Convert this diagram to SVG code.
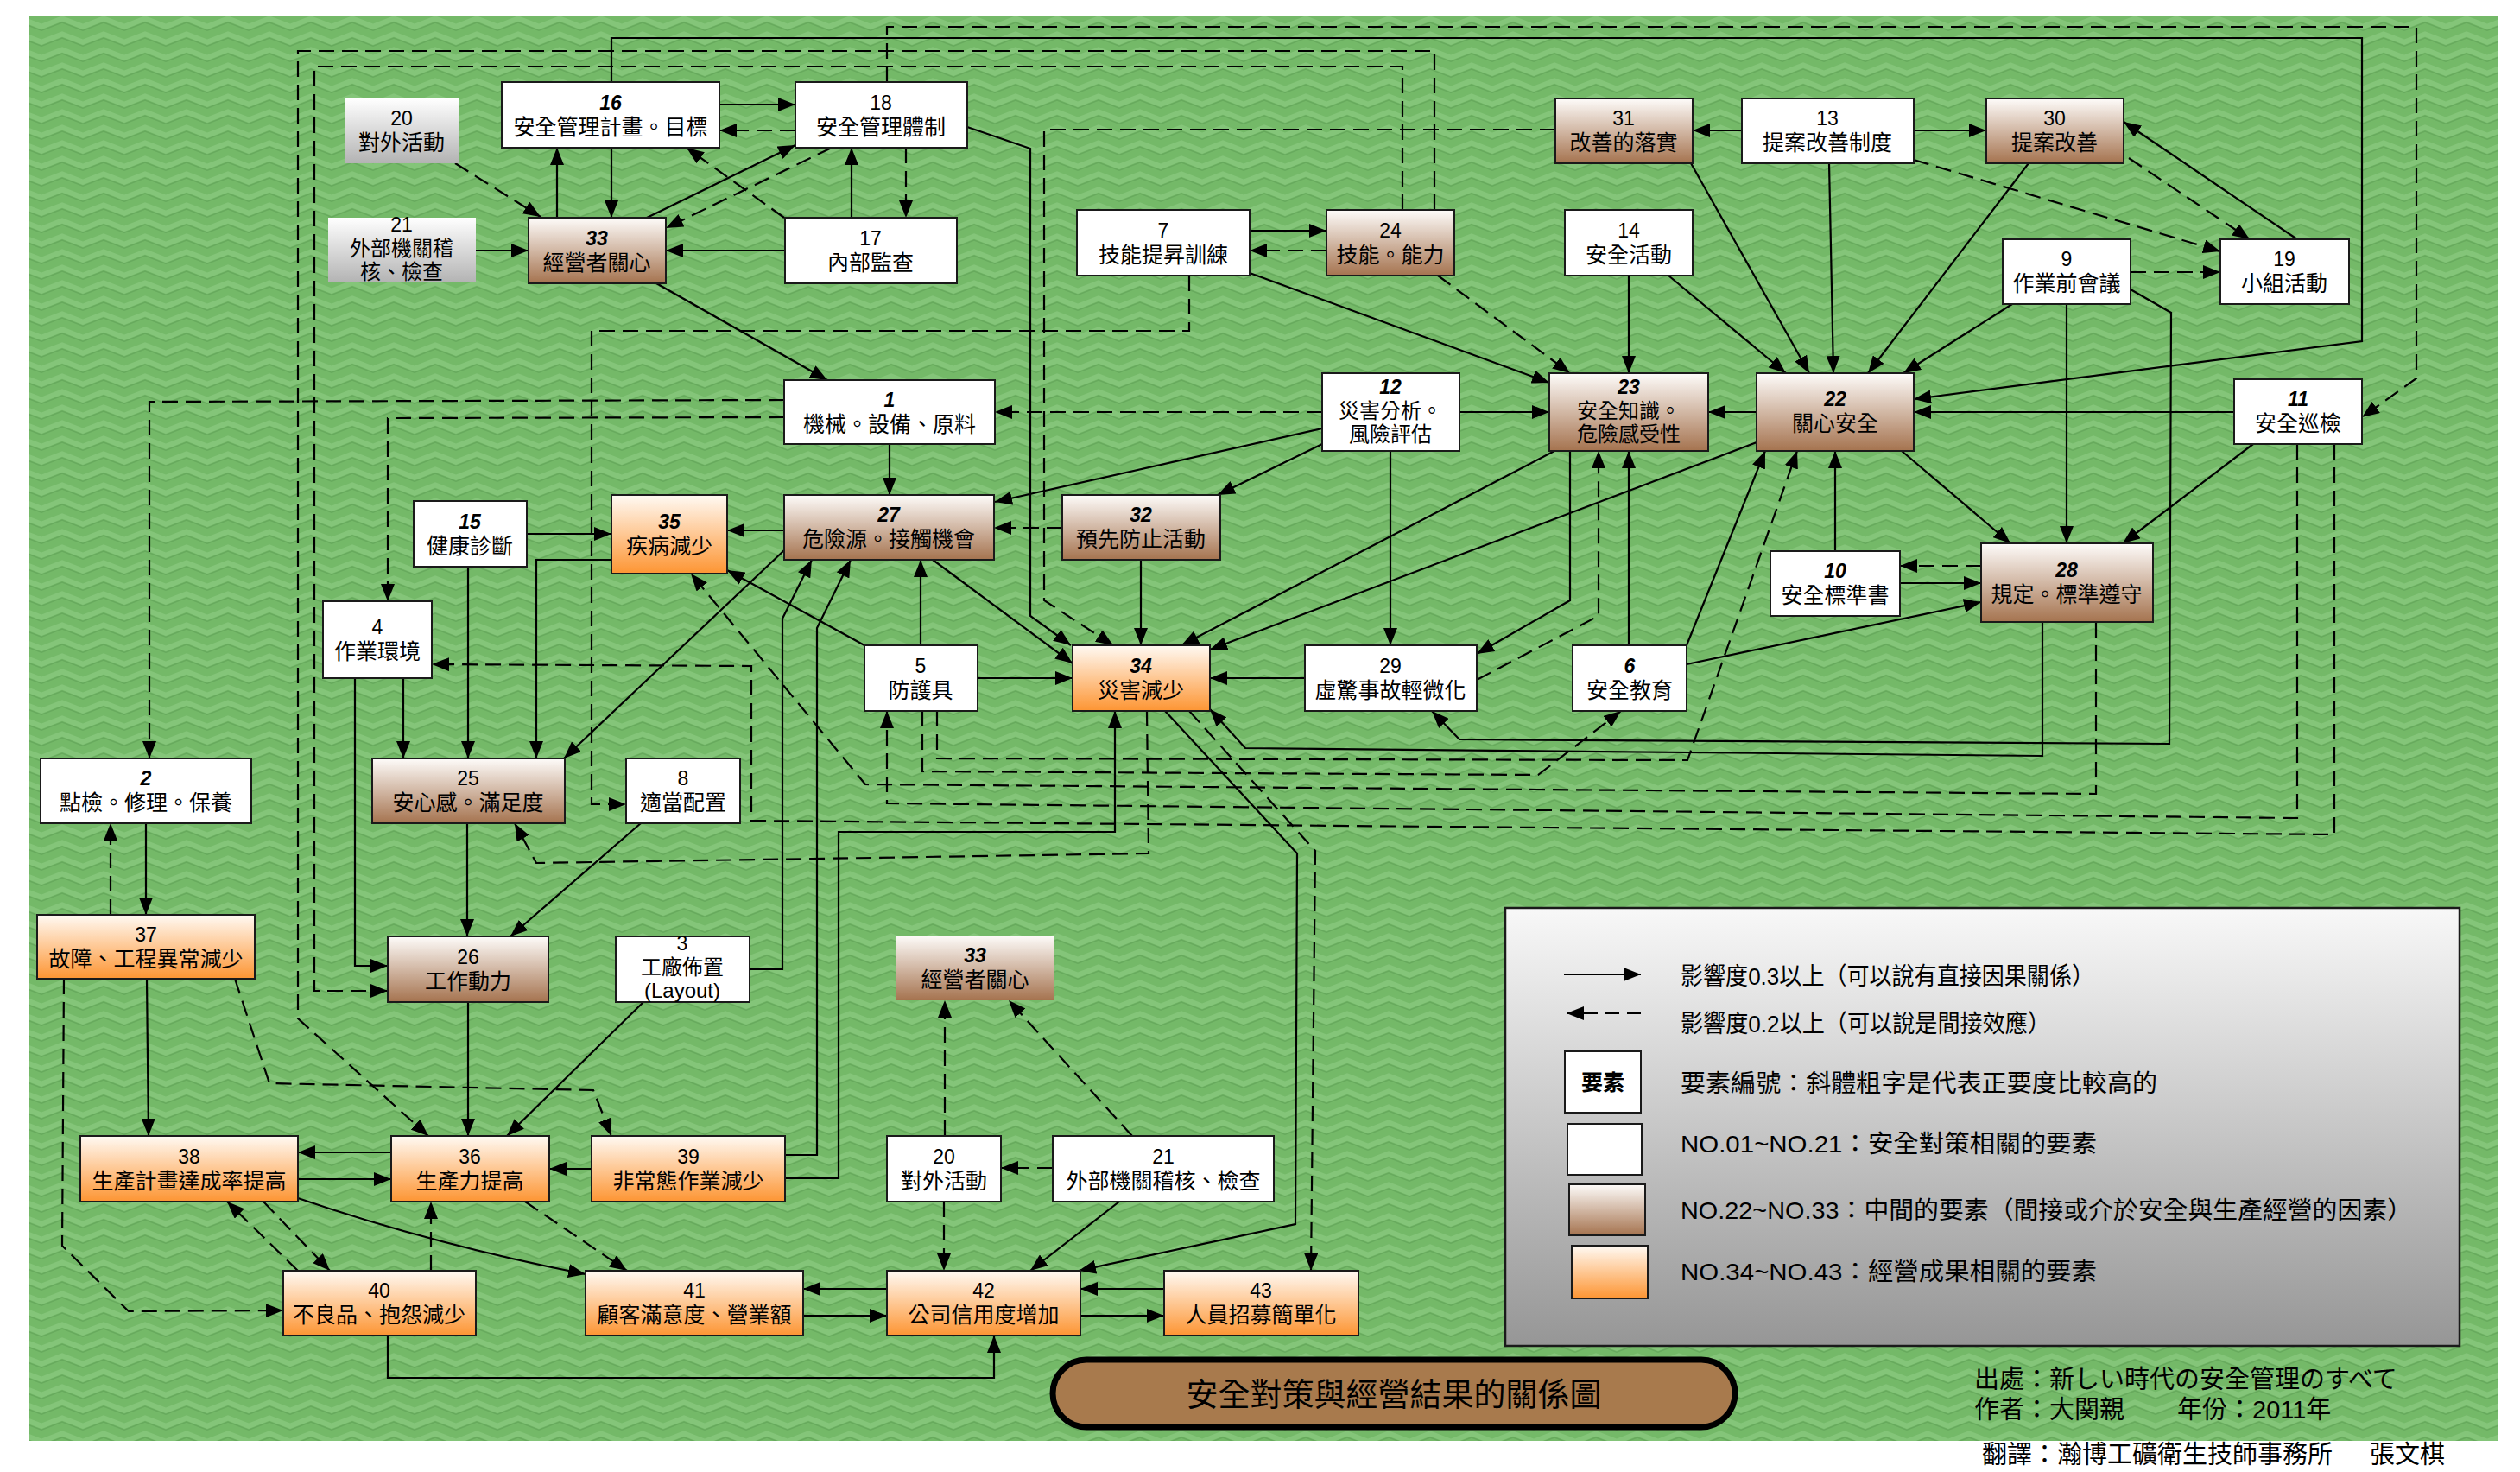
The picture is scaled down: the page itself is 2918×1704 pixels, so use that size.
<svg xmlns="http://www.w3.org/2000/svg" width="2918" height="1704" viewBox="0 0 2918 1704">
<defs>
<pattern id="zz" width="48" height="18" patternUnits="userSpaceOnUse">
<rect width="48" height="18" fill="#74b968"/>
<path d="M-2,13.5 L24,3.5 L50,13.5" fill="none" stroke="#84c579" stroke-width="6"/>
<path d="M-2,18 L24,8 L50,18" fill="none" stroke="#67aa5d" stroke-width="1.5"/>
</pattern>
<linearGradient id="gb" x1="0" y1="0" x2="0" y2="1"><stop offset="0" stop-color="#fefcfa"/><stop offset="1" stop-color="#a5734f"/></linearGradient>
<linearGradient id="go" x1="0" y1="0" x2="0" y2="1"><stop offset="0" stop-color="#fffaf4"/><stop offset="1" stop-color="#fd9533"/></linearGradient>
<linearGradient id="gg" x1="0" y1="0" x2="0" y2="1"><stop offset="0" stop-color="#ffffff"/><stop offset="1" stop-color="#b3b3b3"/></linearGradient>
<linearGradient id="gl" x1="0" y1="0" x2="0" y2="1"><stop offset="0" stop-color="#f8f8f8"/><stop offset="1" stop-color="#969696"/></linearGradient>
<marker id="ah" markerUnits="userSpaceOnUse" markerWidth="20" markerHeight="16" viewBox="0 0 20 16" refX="20" refY="8" orient="auto"><path d="M0,0L20,8L0,16z" fill="#000"/></marker>
</defs>
<style>
.s{fill:none;stroke:#000;stroke-width:2.2;marker-end:url(#ah)}
.d{fill:none;stroke:#000;stroke-width:2.2;stroke-dasharray:18 9;marker-end:url(#ah)}
.bw{fill:#fff;stroke:#1a1a1a;stroke-width:2}
.bb{fill:url(#gb);stroke:#1a1a1a;stroke-width:2}
.bo{fill:url(#go);stroke:#1a1a1a;stroke-width:2}
.bg{fill:url(#gg)}
.bn{fill:url(#gb)}
.num{font-family:"Liberation Sans Narrow","Liberation Sans",sans-serif;font-size:23px;text-anchor:middle;fill:#000}
.bi{font-weight:bold;font-style:italic}
.lb{font-family:"Liberation Sans","Noto Sans CJK TC","Noto Sans CJK SC",sans-serif;font-size:25px;text-anchor:middle;fill:#000}
.l3{font-size:24px}
.lg{font-family:"Liberation Sans","Noto Sans CJK TC",sans-serif;font-size:28px;fill:#000}
.ft{font-family:"Liberation Sans","Noto Sans CJK TC","Noto Sans CJK JP",sans-serif;fill:#000}
</style>
<rect x="0" y="0" width="2918" height="1704" fill="#fff"/>
<rect x="34" y="18" width="2858" height="1650" fill="url(#zz)"/>

<g id="connectors">
<path class="d" d="M527,189 L626,251"/>
<path class="s" d="M551,290 L612,290"/>
<path class="s" d="M708,171 L708,252"/>
<path class="s" d="M645,252 L645,171"/>
<path class="s" d="M833,121 L921,121"/>
<path class="d" d="M921,151 L833,151"/>
<path class="s" d="M749,252 L921,168"/>
<path class="d" d="M963,171 L771,264"/>
<path class="d" d="M908,252 L795,171"/>
<path class="s" d="M986,252 L986,171"/>
<path class="d" d="M1049,171 L1049,252"/>
<path class="s" d="M909,290 L771,290"/>
<path class="s" d="M760,328 L958,440"/>
<path class="s" d="M1120,147 L1193,172 L1193,713 L1240,747"/>
<path class="s" d="M708,95 L708,44 L2735,44 L2735,395 L2216,462"/>
<path class="d" d="M1027,95 L1027,31 L2798,31 L2798,438 L2735,483"/>
<path class="d" d="M1661,243 L1661,59 L345,59 L345,1179 L496,1315"/>
<path class="d" d="M1624,243 L1624,77 L364,77 L364,1147 L449,1147"/>
<path class="d" d="M1801,150 L1209,150 L1209,695 L1289,747"/>
<path class="d" d="M1377,319 L1377,383 L685,383 L685,931 L725,931"/>
<path class="s" d="M1447,267 L1536,267"/>
<path class="d" d="M1536,290 L1447,290"/>
<path class="s" d="M1447,316 L1794,443"/>
<path class="d" d="M1665,319 L1818,432"/>
<path class="s" d="M2017,151 L1960,151"/>
<path class="s" d="M2216,151 L2300,151"/>
<path class="s" d="M1958,189 L2095,432"/>
<path class="s" d="M2118,189 L2123,432"/>
<path class="s" d="M1886,319 L1886,432"/>
<path class="s" d="M1932,319 L2068,432"/>
<path class="s" d="M2349,189 L2163,432"/>
<path class="s" d="M2330,352 L2204,432"/>
<path class="d" d="M2216,185 L2571,291"/>
<path class="d" d="M2465,183 L2605,277"/>
<path class="s" d="M2660,277 L2459,141"/>
<path class="d" d="M2467,315 L2571,315"/>
<path class="s" d="M2393,352 L2393,629"/>
<path class="s" d="M2467,335 L2514,362 L2512,861 L1690,856 L1658,823"/>
<path class="s" d="M2587,477 L2216,477"/>
<path class="s" d="M2609,514 L2458,629"/>
<path class="d" d="M1531,477 L1152,477"/>
<path class="s" d="M1690,477 L1794,477"/>
<path class="s" d="M2034,477 L1978,477"/>
<path class="d" d="M908,463 L173,465 L173,878"/>
<path class="d" d="M908,483 L449,484 L449,696"/>
<path class="s" d="M1030,514 L1030,573"/>
<path class="s" d="M1531,496 L1152,581"/>
<path class="s" d="M1531,514 L1410,573"/>
<path class="s" d="M1610,522 L1610,747"/>
<path class="s" d="M1800,522 L1368,747"/>
<path class="s" d="M2034,512 L1401,752"/>
<path class="s" d="M1818,522 L1818,695 L1710,757"/>
<path class="d" d="M1710,787 L1851,713 L1851,522"/>
<path class="s" d="M1886,747 L1886,522"/>
<path class="s" d="M1953,747 L2044,522"/>
<path class="s" d="M2125,638 L2125,522"/>
<path class="s" d="M2202,522 L2328,629"/>
<path class="d" d="M2294,655 L2200,655"/>
<path class="s" d="M2200,675 L2294,675"/>
<path class="s" d="M1953,769 L2294,697"/>
<path class="s" d="M2365,720 L2365,875 L1442,866 L1401,821"/>
<path class="s" d="M610,618 L708,618"/>
<path class="s" d="M708,648 L621,648 L621,878"/>
<path class="s" d="M542,656 L542,878"/>
<path class="s" d="M467,785 L467,878"/>
<path class="s" d="M411,785 L411,1118 L449,1118"/>
<path class="s" d="M908,614 L842,614"/>
<path class="s" d="M908,637 L653,878"/>
<path class="s" d="M1001,747 L842,660"/>
<path class="s" d="M1066,747 L1066,648"/>
<path class="s" d="M1132,785 L1242,785"/>
<path class="s" d="M1080,648 L1242,768"/>
<path class="d" d="M1230,611 L1151,611"/>
<path class="s" d="M1321,648 L1321,747"/>
<path class="s" d="M1511,785 L1401,785"/>
<path class="d" d="M1085,823 L1085,878 L1954,880 L2081,522"/>
<path class="d" d="M1068,823 L1068,893 L1781,897 L1877,823"/>
<path class="d" d="M2427,720 L2427,919 L1002,908 L800,664"/>
<path class="d" d="M2660,514 L2660,947 L1027,930 L1027,823"/>
<path class="d" d="M2703,514 L2703,966 L870,950 L870,771 L500,769"/>
<path class="d" d="M1328,823 L1330,988 L621,999 L596,953"/>
<path class="s" d="M909,1364 L971,1364 L971,963 L1291,963 L1291,823"/>
<path class="s" d="M909,1337 L946,1337 L946,727 L985,648"/>
<path class="s" d="M868,1122 L906,1122 L906,716 L940,648"/>
<path class="s" d="M1349,823 L1502,988 L1500,1417 L1249,1471"/>
<path class="d" d="M1377,823 L1523,985 L1518,1471"/>
<path class="s" d="M169,953 L169,1059"/>
<path class="d" d="M128,1059 L128,953"/>
<path class="s" d="M170,1133 L172,1315"/>
<path class="d" d="M74,1133 L72,1442 L149,1518 L328,1517"/>
<path class="d" d="M272,1133 L312,1254 L687,1262 L708,1315"/>
<path class="s" d="M541,953 L541,1084"/>
<path class="s" d="M742,953 L591,1084"/>
<path class="s" d="M542,1160 L542,1315"/>
<path class="s" d="M745,1160 L587,1315"/>
<path class="s" d="M345,1365 L453,1365"/>
<path class="s" d="M453,1334 L345,1334"/>
<path class="s" d="M685,1353 L636,1353"/>
<path class="s" d="M345,1387 Q500,1440 678,1475"/>
<path class="d" d="M305,1391 L382,1471"/>
<path class="d" d="M345,1471 L263,1391"/>
<path class="d" d="M499,1471 L499,1391"/>
<path class="d" d="M608,1391 L726,1471"/>
<path class="s" d="M449,1546 L449,1595 L1151,1595 L1151,1546"/>
<path class="s" d="M1027,1492 L930,1492"/>
<path class="s" d="M930,1523 L1027,1523"/>
<path class="s" d="M1348,1492 L1251,1492"/>
<path class="s" d="M1251,1523 L1348,1523"/>
<path class="d" d="M1093,1391 L1093,1471"/>
<path class="d" d="M1219,1352 L1159,1352"/>
<path class="d" d="M1094,1315 L1094,1158"/>
<path class="d" d="M1311,1315 L1168,1158"/>
<path class="s" d="M1296,1391 L1193,1471"/>
</g>

<g id="n20a"><rect class="bg" x="399" y="114" width="132" height="75"/><text class="num" x="465" y="145">20</text><text class="lb" x="465" y="174">對外活動</text></g>
<g id="n21a"><rect class="bg" x="380" y="252" width="171" height="75"/><text class="num" x="465" y="268">21</text><text class="lb l3" x="465" y="296">外部機關稽</text><text class="lb l3" x="465" y="323">核、檢查</text></g>
<g id="n16"><rect class="bw" x="581" y="95" width="252" height="76"/><text class="num bi" x="707" y="127">16</text><text class="lb" x="707" y="156">安全管理計畫。目標</text></g>
<g id="n18"><rect class="bw" x="921" y="95" width="199" height="76"/><text class="num" x="1020" y="127">18</text><text class="lb" x="1020" y="156">安全管理體制</text></g>
<g id="n33a"><rect class="bb" x="612" y="252" width="159" height="76"/><text class="num bi" x="691" y="284">33</text><text class="lb" x="691" y="313">經營者關心</text></g>
<g id="n17"><rect class="bw" x="909" y="252" width="199" height="76"/><text class="num" x="1008" y="284">17</text><text class="lb" x="1008" y="313">內部監查</text></g>
<g id="n7"><rect class="bw" x="1247" y="243" width="200" height="76"/><text class="num" x="1347" y="275">7</text><text class="lb" x="1347" y="304">技能提昇訓練</text></g>
<g id="n24"><rect class="bb" x="1536" y="243" width="148" height="76"/><text class="num" x="1610" y="275">24</text><text class="lb" x="1610" y="304">技能。能力</text></g>
<g id="n31"><rect class="bb" x="1801" y="114" width="159" height="75"/><text class="num" x="1880" y="145">31</text><text class="lb" x="1880" y="174">改善的落實</text></g>
<g id="n13"><rect class="bw" x="2017" y="114" width="199" height="75"/><text class="num" x="2116" y="145">13</text><text class="lb" x="2116" y="174">提案改善制度</text></g>
<g id="n30"><rect class="bb" x="2300" y="114" width="159" height="75"/><text class="num" x="2379" y="145">30</text><text class="lb" x="2379" y="174">提案改善</text></g>
<g id="n14"><rect class="bw" x="1812" y="243" width="148" height="76"/><text class="num" x="1886" y="275">14</text><text class="lb" x="1886" y="304">安全活動</text></g>
<g id="n9"><rect class="bw" x="2319" y="277" width="148" height="75"/><text class="num" x="2393" y="308">9</text><text class="lb" x="2393" y="337">作業前會議</text></g>
<g id="n19"><rect class="bw" x="2571" y="277" width="149" height="75"/><text class="num" x="2645" y="308">19</text><text class="lb" x="2645" y="337">小組活動</text></g>
<g id="n1"><rect class="bw" x="908" y="440" width="244" height="74"/><text class="num bi" x="1030" y="471">1</text><text class="lb" x="1030" y="500">機械。設備、原料</text></g>
<g id="n12"><rect class="bw" x="1531" y="432" width="159" height="90"/><text class="num bi" x="1610" y="456">12</text><text class="lb l3" x="1610" y="484">災害分析。</text><text class="lb l3" x="1610" y="511">風險評估</text></g>
<g id="n23"><rect class="bb" x="1794" y="432" width="184" height="90"/><text class="num bi" x="1886" y="456">23</text><text class="lb l3" x="1886" y="484">安全知識。</text><text class="lb l3" x="1886" y="511">危險感受性</text></g>
<g id="n22"><rect class="bb" x="2034" y="432" width="182" height="90"/><text class="num bi" x="2125" y="470">22</text><text class="lb" x="2125" y="499">關心安全</text></g>
<g id="n11"><rect class="bw" x="2587" y="439" width="148" height="75"/><text class="num bi" x="2661" y="470">11</text><text class="lb" x="2661" y="499">安全巡檢</text></g>
<g id="n15"><rect class="bw" x="479" y="580" width="131" height="76"/><text class="num bi" x="544" y="612">15</text><text class="lb" x="544" y="641">健康診斷</text></g>
<g id="n35"><rect class="bo" x="708" y="573" width="134" height="91"/><text class="num bi" x="775" y="612">35</text><text class="lb" x="775" y="641">疾病減少</text></g>
<g id="n27"><rect class="bb" x="908" y="573" width="243" height="75"/><text class="num bi" x="1029" y="604">27</text><text class="lb" x="1029" y="633">危險源。接觸機會</text></g>
<g id="n32"><rect class="bb" x="1230" y="573" width="183" height="75"/><text class="num bi" x="1321" y="604">32</text><text class="lb" x="1321" y="633">預先防止活動</text></g>
<g id="n28"><rect class="bb" x="2294" y="629" width="199" height="91"/><text class="num bi" x="2393" y="668">28</text><text class="lb" x="2393" y="697">規定。標準遵守</text></g>
<g id="n10"><rect class="bw" x="2050" y="638" width="150" height="75"/><text class="num bi" x="2125" y="669">10</text><text class="lb" x="2125" y="698">安全標準書</text></g>
<g id="n4"><rect class="bw" x="374" y="696" width="126" height="89"/><text class="num" x="437" y="734">4</text><text class="lb" x="437" y="763">作業環境</text></g>
<g id="n5"><rect class="bw" x="1001" y="747" width="131" height="76"/><text class="num" x="1066" y="779">5</text><text class="lb" x="1066" y="808">防護具</text></g>
<g id="n34"><rect class="bo" x="1242" y="747" width="159" height="76"/><text class="num bi" x="1321" y="779">34</text><text class="lb" x="1321" y="808">災害減少</text></g>
<g id="n29"><rect class="bw" x="1511" y="747" width="199" height="76"/><text class="num" x="1610" y="779">29</text><text class="lb" x="1610" y="808">虛驚事故輕微化</text></g>
<g id="n6"><rect class="bw" x="1821" y="747" width="132" height="76"/><text class="num bi" x="1887" y="779">6</text><text class="lb" x="1887" y="808">安全教育</text></g>
<g id="n2"><rect class="bw" x="47" y="878" width="244" height="75"/><text class="num bi" x="169" y="909">2</text><text class="lb" x="169" y="938">點檢。修理。保養</text></g>
<g id="n25"><rect class="bb" x="431" y="878" width="223" height="75"/><text class="num" x="542" y="909">25</text><text class="lb" x="542" y="938">安心感。滿足度</text></g>
<g id="n8"><rect class="bw" x="725" y="878" width="132" height="75"/><text class="num" x="791" y="909">8</text><text class="lb" x="791" y="938">適當配置</text></g>
<g id="n37"><rect class="bo" x="43" y="1059" width="252" height="74"/><text class="num" x="169" y="1090">37</text><text class="lb" x="169" y="1119">故障、工程異常減少</text></g>
<g id="n26"><rect class="bb" x="449" y="1084" width="186" height="76"/><text class="num" x="542" y="1116">26</text><text class="lb" x="542" y="1145">工作動力</text></g>
<g id="n3"><rect class="bw" x="713" y="1084" width="155" height="76"/><text class="num" x="790" y="1100">3</text><text class="lb l3" x="790" y="1128">工廠佈置</text><text class="lb l3" x="790" y="1155">(Layout)</text></g>
<g id="n33b"><rect class="bn" x="1037" y="1083" width="184" height="75"/><text class="num bi" x="1129" y="1114">33</text><text class="lb" x="1129" y="1143">經營者關心</text></g>
<g id="n38"><rect class="bo" x="93" y="1315" width="252" height="76"/><text class="num" x="219" y="1347">38</text><text class="lb" x="219" y="1376">生產計畫達成率提高</text></g>
<g id="n36"><rect class="bo" x="453" y="1315" width="183" height="76"/><text class="num" x="544" y="1347">36</text><text class="lb" x="544" y="1376">生產力提高</text></g>
<g id="n39"><rect class="bo" x="685" y="1315" width="224" height="76"/><text class="num" x="797" y="1347">39</text><text class="lb" x="797" y="1376">非常態作業減少</text></g>
<g id="n20b"><rect class="bw" x="1027" y="1315" width="132" height="76"/><text class="num" x="1093" y="1347">20</text><text class="lb" x="1093" y="1376">對外活動</text></g>
<g id="n21b"><rect class="bw" x="1219" y="1315" width="256" height="76"/><text class="num" x="1347" y="1347">21</text><text class="lb" x="1347" y="1376">外部機關稽核、檢查</text></g>
<g id="n40"><rect class="bo" x="328" y="1471" width="223" height="75"/><text class="num" x="439" y="1502">40</text><text class="lb" x="439" y="1531">不良品、抱怨減少</text></g>
<g id="n41"><rect class="bo" x="678" y="1471" width="252" height="75"/><text class="num" x="804" y="1502">41</text><text class="lb" x="804" y="1531">顧客滿意度、營業額</text></g>
<g id="n42"><rect class="bo" x="1027" y="1471" width="224" height="75"/><text class="num" x="1139" y="1502">42</text><text class="lb" x="1139" y="1531">公司信用度增加</text></g>
<g id="n43"><rect class="bo" x="1348" y="1471" width="225" height="75"/><text class="num" x="1460" y="1502">43</text><text class="lb" x="1460" y="1531">人員招募簡單化</text></g>

<g id="legend">
<rect x="1743" y="1051" width="1105" height="507" fill="url(#gl)" stroke="#1a1a1a" stroke-width="2.5"/>
<path class="s" d="M1811,1128 L1900,1128"/>
<path class="d" d="M1900,1173 L1814,1173" style="stroke-dasharray:16 9"/>
<rect class="bw" x="1812" y="1217" width="88" height="71"/>
<text class="lb" x="1856" y="1262" style="font-weight:bold">要素</text>
<rect class="bw" x="1815" y="1301" width="86" height="59"/>
<rect class="bb" x="1817" y="1371" width="88" height="59"/>
<rect class="bo" x="1820" y="1442" width="88" height="61"/>
<text class="lg" x="1946" y="1140" textLength="479" lengthAdjust="spacingAndGlyphs">影響度0.3以上（可以說有直接因果關係）</text>
<text class="lg" x="1946" y="1195" textLength="428" lengthAdjust="spacingAndGlyphs">影響度0.2以上（可以說是間接效應）</text>
<text class="lg" x="1946" y="1264" textLength="552" lengthAdjust="spacingAndGlyphs">要素編號：斜體粗字是代表正要度比較高的</text>
<text class="lg" x="1946" y="1334" textLength="482" lengthAdjust="spacingAndGlyphs">NO.01~NO.21：安全對策相關的要素</text>
<text class="lg" x="1946" y="1411" textLength="847" lengthAdjust="spacingAndGlyphs">NO.22~NO.33：中間的要素（間接或介於安全與生產經營的因素）</text>
<text class="lg" x="1946" y="1482" textLength="482" lengthAdjust="spacingAndGlyphs">NO.34~NO.43：經營成果相關的要素</text>
</g>

<g id="title">
<rect x="1219" y="1574" width="790" height="78" rx="39" fill="#a87a4d" stroke="#000" stroke-width="7"/>
<text class="ft" x="1614" y="1628" font-size="37" text-anchor="middle">安全對策與經營結果的關係圖</text>
</g>
<g id="source">
<text class="ft" x="2286" y="1607" font-size="29">出處：新しい時代の安全管理のすべて</text>
<text class="ft" x="2286" y="1642" font-size="29">作者：大関親</text>
<text class="ft" x="2521" y="1642" font-size="29">年份：2011年</text>
<text class="ft" x="2295" y="1694" font-size="29">翻譯：瀚博工礦衛生技師事務所</text>
<text class="ft" x="2744" y="1694" font-size="29">張文棋</text>
</g>
</svg>
